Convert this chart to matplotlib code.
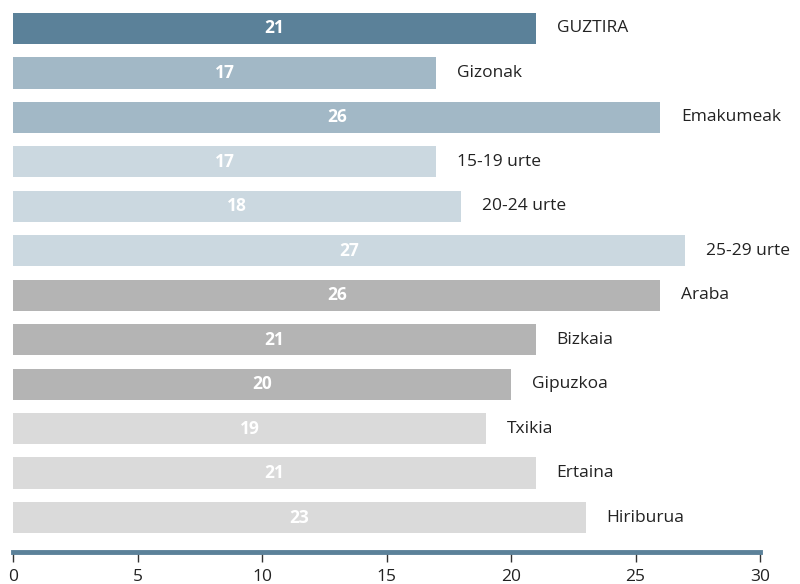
import matplotlib
matplotlib.use("Agg")
import matplotlib.pyplot as plt

categories = ["GUZTIRA", "Gizonak", "Emakumeak", "15-19 urte", "20-24 urte",
              "25-29 urte", "Araba", "Bizkaia", "Gipuzkoa", "Txikia",
              "Ertaina", "Hiriburua"]
values = [21, 17, 26, 17, 18, 27, 26, 21, 20, 19, 21, 23]
colors = ["#5b8199", "#a2b8c6", "#a2b8c6", "#cbd8e0", "#cbd8e0", "#cbd8e0",
          "#b4b4b4", "#b4b4b4", "#b4b4b4", "#dadada", "#dadada", "#dadada"]
xticks = [0, 5, 10, 15, 20, 25, 30]

plt.rcParams["font.family"] = ["Open Sans", "DejaVu Sans"]

fig = plt.figure(figsize=(8, 5.84), dpi=100)
ax = fig.add_axes([13 / 800, 32 / 584, (760 - 13) / 800, 552 / 584])

ypos = list(range(len(categories)))
ax.barh(ypos, values, height=0.70, color=colors, zorder=2)

for y, v, name in zip(ypos, values, categories):
    ax.text(v / 2, y, str(v), ha="center", va="center", color="white",
            fontsize=12.5, fontweight="bold")
    ax.annotate(name, xy=(v, y), xytext=(15, 0), textcoords="offset points",
                ha="left", va="center", fontsize=12.5, color="#222222",
                annotation_clip=False)

ax.set_xlim(0, 30)
ax.set_ylim(len(categories) - 1 + 0.776, -0.641)
ax.set_xticks(xticks)
ax.set_xticklabels([str(t) for t in xticks])
ax.set_yticks([])

for side in ("top", "right", "left"):
    ax.spines[side].set_visible(False)
ax.spines["bottom"].set_color("#5b8199")
ax.spines["bottom"].set_linewidth(3.5)
ax.tick_params(axis="x", direction="out", length=7, width=1, color="#333333",
               labelsize=12.5, labelcolor="#222222", pad=5)

fig.savefig("out.png", dpi=100)
